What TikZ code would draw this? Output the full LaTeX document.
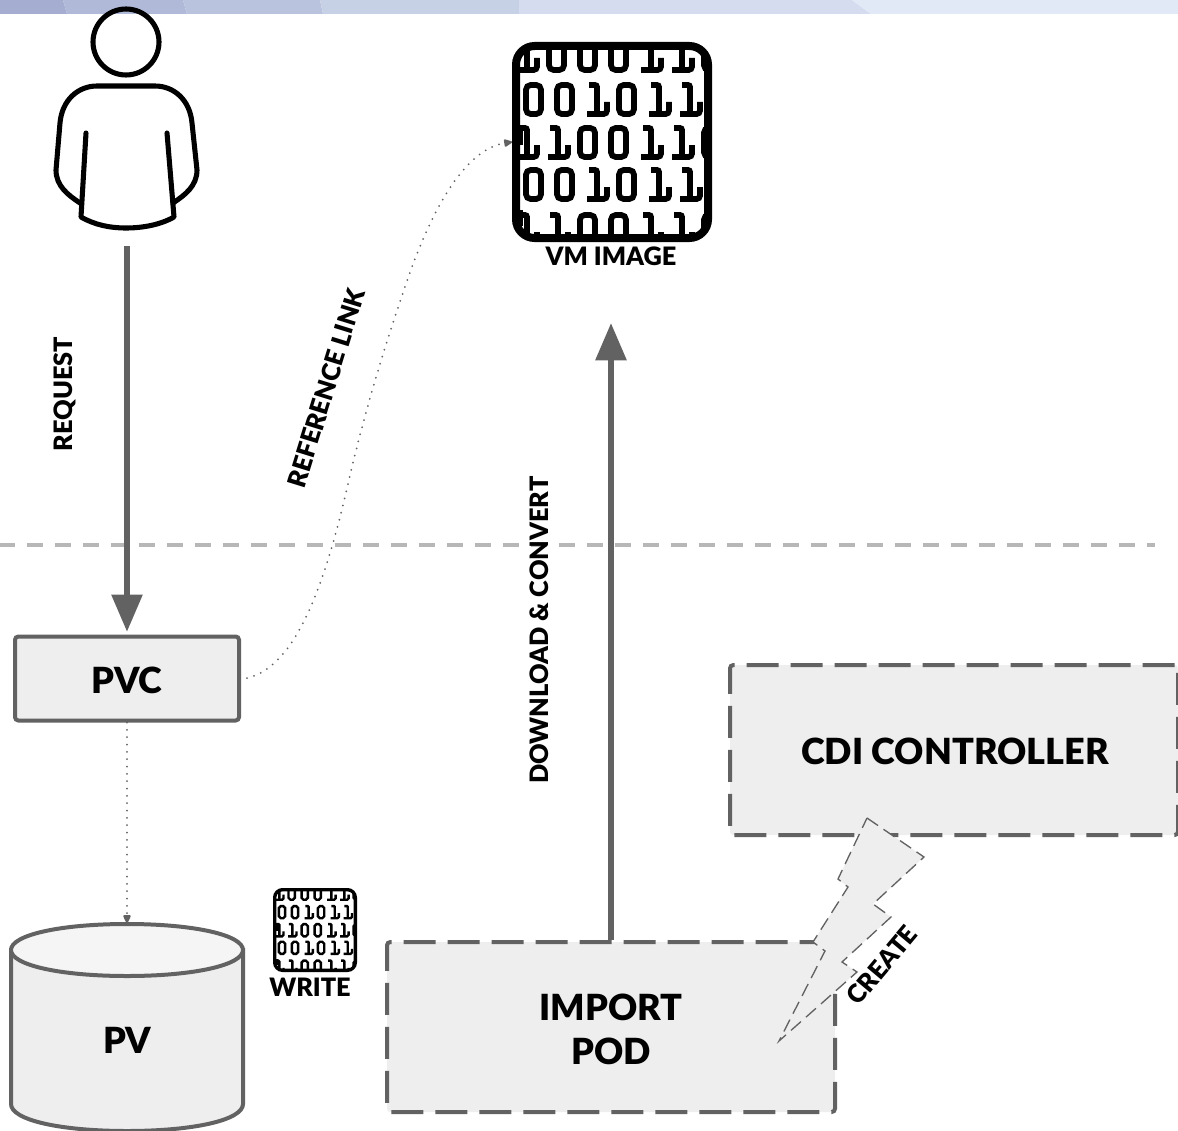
\documentclass[tikz,border=0pt]{standalone}
\usepackage{fontspec}
\setmainfont{Lato}[BoldFont={Lato Black}]
\usepackage{tikz}
\usetikzlibrary{arrows.meta}
\definecolor{linegray}{RGB}{98,98,98}
\definecolor{boxgray}{RGB}{238,238,238}
\definecolor{splitgray}{RGB}{183,183,183}
\tikzset{
  label/.style={inner sep=0.75pt,font=\bfseries\fontsize{19}{22}\selectfont,align=center},
  boxlabel/.style={inner sep=0.75pt,font=\bfseries\fontsize{27}{33}\selectfont,align=center},
  solidbox/.style={draw=linegray,fill=boxgray,line width=3pt,rounded corners=2.5pt,inner sep=0pt},
  dashbox/.style={solidbox,dash pattern={on 24pt off 9pt}},
  bigarrow/.style={draw=linegray,line width=4.5pt,-{Triangle[length=28pt,width=22.5pt]}},
  dotarrow/.style={draw=linegray,line width=1.5pt,line cap=round,dash pattern={on 0pt off 5.5pt},-{Triangle[length=7pt,width=6pt,sep=0pt,round=false]}},
}
\newcommand{\binaryicon}[3]{%
\begin{scope}[shift={(#1,#2)},scale=#3]
\begin{scope}
\clip[rounded corners={#3*14pt}] (4,4) rectangle (196,196);
\foreach \rowy/\rowx/\bits in {-1/6/{1,0,0,0,1,1,0},43/14/{0,0,1,0,1,1},86/6/{1,1,0,0,1,1,0},128/14/{0,0,1,0,1,1},173/6/{1,1,0,0,1,1,0}}{
  \foreach \bit [count=\n from 0] in \bits {
    \pgfmathsetmacro{\digx}{\rowx+31*\n}
    \ifnum\bit=0
      \draw[line width={#3*4.3pt},rounded corners={#3*3.5pt}] (\digx,\rowy) rectangle ++(15,29);
    \else
      \draw[line width={#3*4.3pt},rounded corners={#3*1.5pt}] (\digx+1,\rowy) -- ++(8,0) -- ++(0,29);
      \draw[line width={#3*4.3pt},rounded corners={#3*2.5pt}] (\digx-1,\rowy+29) -- ++(20,0) -- ++(0,-12);
    \fi
  }
}
\end{scope}
\draw[line width={#3*6pt},rounded corners={#3*14pt}] (4,4) rectangle (196,196);
\fill (2,83) rectangle (11,103);
\fill (2,168) rectangle (11,184);
\end{scope}}

\begin{document}
\begin{tikzpicture}[x=0.75pt,y=0.75pt,yscale=-1,xscale=1]
\useasboundingbox (0,0) rectangle (1178,1131);

%Shape: Banner
\fill[color={rgb, 255:red, 165; green, 174; blue, 208 }] (0,0) -- (63,0) -- (67,14) -- (0,14) -- cycle;
\fill[color={rgb, 255:red, 176; green, 185; blue, 216 }] (63,0) -- (183,0) -- (187,14) -- (67,14) -- cycle;
\fill[color={rgb, 255:red, 186; green, 195; blue, 222 }] (183,0) -- (320,0) -- (323,14) -- (187,14) -- cycle;
\fill[color={rgb, 255:red, 199; green, 209; blue, 230 }] (320,0) -- (519,0) -- (519,14) -- (323,14) -- cycle;
\fill[color={rgb, 255:red, 213; green, 220; blue, 240 }] (519,0) -- (852,0) -- (871,14) -- (519,14) -- cycle;
\fill[color={rgb, 255:red, 226; green, 233; blue, 246 }] (852,0) -- (1178,0) -- (1178,14) -- (871,14) -- cycle;

%Shape: Person
\draw[line width=3.8pt] (126,42) circle (33);
\draw[line width=3.8pt,line cap=round,line join=round] (80,203) .. controls (68,195) and (56,186) .. (56,170) -- (60,123) .. controls (62,100) and (78,86) .. (97,86) -- (155,86) .. controls (174,86) and (190,100) .. (192,123) -- (197,170) .. controls (197,186) and (185,195) .. (173,203);
\draw[line width=3.8pt,line cap=round,line join=round] (86,133) -- (81,217) .. controls (95,225) and (110,228) .. (126,228) .. controls (142,228) and (160,225) .. (174,217) -- (167,133);
\coordinate (userfoot) at (127,246);

%Shape: Split line
\draw[draw=splitgray,line width=3pt,dash pattern={on 12pt off 9pt}] (-1.5,545) -- (1155,545);

%Shape: VM image
\binaryicon{512}{42}{1}
\coordinate (vmimage) at (512,142);
\coordinate (vmfoot) at (611,323);
\binaryicon{273}{888}{0.42}

%Shape: Cylinder
\draw[draw=linegray,fill=boxgray,line width=3pt] (11,950) -- (11,1104) .. controls (11,1120) and (60,1131) .. (127,1131) .. controls (194,1131) and (243,1120) .. (243,1104) -- (243,950) -- cycle;
\draw[draw=linegray,fill=boxgray!60,line width=3pt] (11,950) .. controls (11,935) and (60,924) .. (127,924) .. controls (194,924) and (243,935) .. (243,950) .. controls (243,965) and (194,976) .. (127,976) .. controls (60,976) and (11,965) .. (11,950) -- cycle;
\coordinate (pvtop) at (127,923);

%Shape: Boxes
\node (pvc) [solidbox,minimum width=168pt,minimum height=63pt] at (127,678.5) {};
\node (cdi) [dashbox,minimum width=336pt,minimum height=127.5pt,anchor=north west] at (728,663) {};
\node (importpod) [dashbox,minimum width=336pt,minimum height=127.5pt,anchor=north west] at (385,940) {};

%Straight Lines
\draw[bigarrow,shorten >=2pt] (userfoot) -- (pvc.north);
\draw[bigarrow] (importpod.north) -- (vmfoot);
\draw[dotarrow] (pvc.south) -- (pvtop);
\draw[dotarrow] (247,678) .. controls (297,667) and (325,580) .. (345,497) .. controls (362,420) and (385,345) .. (403,293) .. controls (425,225) and (460,150) .. (vmimage);

%Shape: Bolt
\draw[draw=linegray,fill=boxgray,line width=1pt,dash pattern={on 10pt off 5pt}] (867,818) -- (924,857) -- (873,904) -- (891,917) -- (842,962) -- (857,972) -- (779,1041) -- (825,951) -- (813,942) -- (848,887) -- (838,879) -- cycle;

% Text Node
\node (pvclabel) [boxlabel] at (127,680) {PVC};
% Text Node
\node (pvlabel) [boxlabel] at (127,1040) {PV};
% Text Node
\node (cdilabel) [boxlabel] at (955,751) {CDI CONTROLLER};
% Text Node
\node (podlabel) [boxlabel] at (611,1029) {IMPORT\\POD};
% Text Node
\node (vmlabel) [label] at (611,256) {VM IMAGE};
% Text Node
\node (writelabel) [label] at (310,987) {WRITE};
% Text Node
\node (requestlabel) [label,rotate=90] at (65,394) {REQUEST};
% Text Node
\node (linklabel) [label,rotate=72.8] at (326,388) {REFERENCE LINK};
% Text Node
\node (convertlabel) [label,rotate=90] at (539,630) {DOWNLOAD \& CONVERT};
% Text Node
\node (createlabel) [label,rotate=50] at (882,965) {CREATE};

\end{tikzpicture}
\end{document}
